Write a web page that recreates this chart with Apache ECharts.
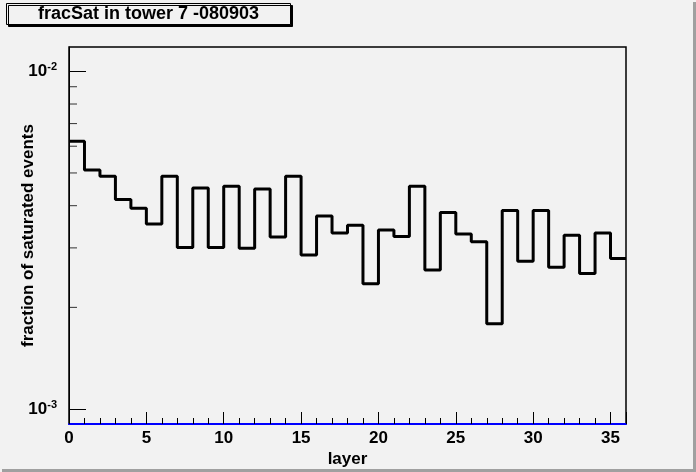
<!DOCTYPE html>
<html>
<head>
    <meta charset="utf-8" />
    <title>fracSat in tower 7</title>
    <script src="https://cdn.jsdelivr.net/npm/echarts@6/dist/echarts.min.js"></script>
    <style type="text/css">
        html, body { margin: 0; padding: 0; background: #f2f2f2; }
        #chart { width: 696px; height: 472px; }
    </style>
</head>
<body>
    <div id="chart"></div>
    <script>
        // one value per layer bin (bin i spans [i, i+1))
        const layers = [0, 1, 2, 3, 4, 5, 6, 7, 8, 9, 10, 11, 12, 13, 14, 15, 16, 17,
            18, 19, 20, 21, 22, 23, 24, 25, 26, 27, 28, 29, 30, 31, 32, 33, 34, 35];
        const fracSat = [
            0.00621, 0.00510, 0.00489, 0.00417, 0.00393, 0.00353,
            0.00489, 0.00301, 0.00451, 0.00301, 0.00457, 0.00299,
            0.00448, 0.00323, 0.00489, 0.00286, 0.00373, 0.00332,
            0.00350, 0.00235, 0.00339, 0.00324, 0.00457, 0.00258,
            0.00382, 0.00330, 0.00313, 0.00179, 0.00387, 0.00274,
            0.00387, 0.00263, 0.00327, 0.00252, 0.00332, 0.00279
        ];
        const yMinorTicks = [0.002, 0.003, 0.004, 0.005, 0.006, 0.007, 0.008, 0.009];
        const xMax = 36;

        const font = "'Liberation Sans', Arial, Helvetica, sans-serif";

        // step line needs a closing point at the right edge of the last bin
        const histData = layers.map((x, i) => [x, fracSat[i]]);
        histData.push([xMax, fracSat[fracSat.length - 1]]);

        const myChart = echarts.init(document.getElementById('chart'));

        const option = {
            backgroundColor: '#f2f2f2',
            animation: false,
            textStyle: { fontFamily: font },
            title: {
                text: 'fracSat in tower 7 -080903',
                left: 6,
                top: 3,
                padding: [1, 32, 1, 32],
                backgroundColor: '#f2f2f2',
                borderColor: '#000',
                borderWidth: 1,
                shadowColor: '#000',
                shadowOffsetX: 2,
                shadowOffsetY: 2,
                shadowBlur: 0,
                textStyle: {
                    fontFamily: font,
                    fontSize: 18,
                    fontWeight: 'bold',
                    color: '#000',
                    lineHeight: 20
                }
            },
            graphic: [
                { type: 'rect', right: 0, top: 2, shape: { width: 3, height: 470 }, style: { fill: '#a0a0a0' } },
                { type: 'rect', left: 2, bottom: 0, shape: { width: 694, height: 3 }, style: { fill: '#a0a0a0' } }
            ],
            grid: {
                left: 69,
                top: 47,
                right: 70,
                bottom: 48,
                outerBoundsMode: 'none',
                containLabel: false,
                show: true,
                borderColor: '#000',
                borderWidth: 1.5,
                backgroundColor: 'transparent'
            },
            xAxis: {
                type: 'value',
                min: 0,
                max: xMax,
                interval: 5,
                name: 'layer',
                nameLocation: 'middle',
                nameGap: 27,
                nameMoveOverlap: false,
                nameTextStyle: { fontFamily: font, fontSize: 17, fontWeight: 'bold', color: '#000' },
                axisLine: { show: true, onZero: false, lineStyle: { color: '#0000ff', width: 2 } },
                axisTick: { inside: true, length: 12, lineStyle: { color: '#000' } },
                minorTick: { show: true, splitNumber: 5, length: 6, lineStyle: { color: '#000' } },
                splitLine: { show: false },
                axisLabel: {
                    margin: 6,
                    showMaxLabel: false,
                    fontFamily: font,
                    fontSize: 17,
                    fontWeight: 'bold',
                    color: '#000'
                }
            },
            yAxis: {
                type: 'log',
                logBase: 10,
                min: 0.000903,
                max: 0.0118,
                name: 'fraction of saturated events',
                nameLocation: 'middle',
                nameGap: 32,
                nameMoveOverlap: false,
                nameRotate: 90,
                nameTextStyle: { fontFamily: font, fontSize: 17, fontWeight: 'bold', color: '#000' },
                axisLine: { show: true, lineStyle: { color: '#000', width: 1 } },
                axisTick: { inside: true, length: 17, lineStyle: { color: '#000' } },
                splitLine: { show: false },
                axisLabel: {
                    margin: 12,
                    showMinLabel: false,
                    showMaxLabel: false,
                    formatter: function (v) {
                        const e = Math.round(Math.log10(v));
                        return '{b|10}{s|' + e + '}';
                    },
                    rich: {
                        b: { fontFamily: font, fontSize: 17, fontWeight: 'bold', color: '#000' },
                        s: { fontFamily: font, fontSize: 11, fontWeight: 'bold', color: '#000', padding: [0, 0, 9, 0] }
                    }
                }
            },
            series: [
                {
                    name: 'fracSat',
                    type: 'line',
                    step: 'end',
                    data: histData,
                    symbol: 'none',
                    clip: true,
                    lineStyle: { color: '#000', width: 3 },
                    z: 3
                },
                {
                    // minor ticks of the log axis (2..9 x 10^-3)
                    name: 'minorTicks',
                    type: 'scatter',
                    data: yMinorTicks.map(v => [0, v]),
                    symbol: 'rect',
                    symbolSize: [8, 1],
                    symbolOffset: [4, 0],
                    itemStyle: { color: '#000' },
                    silent: true,
                    clip: false,
                    z: 4
                }
            ]
        };

        myChart.setOption(option);
    </script>
</body>
</html>
